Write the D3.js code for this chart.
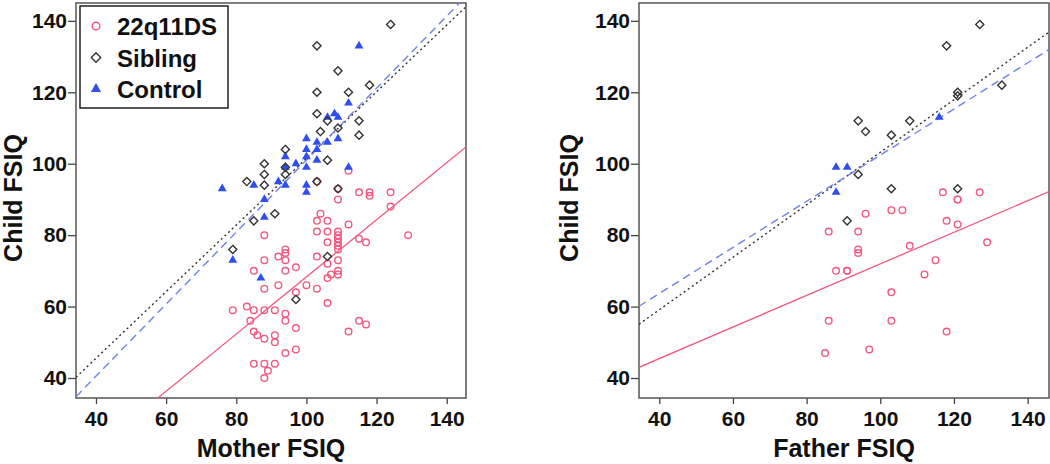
<!DOCTYPE html>
<html><head><meta charset="utf-8">
<script src="https://cdn.jsdelivr.net/npm/d3@7"></script>
<style>body{margin:0;background:#fff;} svg{display:block;font-family:"Liberation Sans",Arial,sans-serif;}</style>
</head><body><svg id="c" width="1050" height="464"></svg>
<script>
const seriesNames = ["22q11DS", "Sibling", "Control"];
const xTickValues = [40, 60, 80, 100, 120, 140];
const yTickValues = [40, 60, 80, 100, 120, 140];
const xTitles = ["Mother FSIQ", "Father FSIQ"];
const yTitle = "Child FSIQ";

const mother22q = [
  [112,98],[103,95],[109,93],[109,90],[115,92],[118,92],[118,91],[124,92],[124,88],[129,80],
  [104,86],[103,84],[106,84],[88,80],[103,81],[106,81],[109,81],[109,80],[109,79],[109,78],
  [112,83],[106,78],[115,79],[117,78],[109,77],[109,76],[94,76],[94,75],[92,74],[88,73],
  [94,73],[103,74],[106,72],[109,73],[97,71],[85,70],[94,70],[109,70],[109,69],[106,68],[107,69],
  [88,65],[92,66],[100,66],[103,65],[97,64],[106,61],[83,60],[79,59],[85,59],[88,59],[91,59],
  [84,56],[94,58],[94,56],[97,54],[115,56],[117,55],[112,53],[85,53],[86,52],[88,51],[91,52],[91,50],
  [94,47],[97,48],[85,44],[88,44],[91,44],[89,42],[88,40]
];
const motherSibling = [
  [79,76],[83,95],[85,84],[88,100],[88,97],[88,94],[91,86],[94,104],[94,99],[94,97],[97,62],
  [103,95],[103,114],[103,120],[103,133],[104,109],[106,101],[106,112],[106,74],[109,93],
  [109,110],[109,126],[112,120],[115,108],[115,112],[118,122],[124,139]
];
const motherControl = [
  [76,93],[79,73],[85,94],[87,68],[88,90],[88,85],[92,95],[94,102],[94,99],[94,94],[97,100],
  [100,107],[100,104],[100,102],[100,99],[100,94],[100,92],[103,106],[103,104],[103,101],
  [106,106],[106,113],[108,114],[109,113],[109,107],[112,117],[112,99],[115,133]
];
const father22q = [
  [117,92],[127,92],[121,90],[121,90],[96,86],[103,87],[106,87],[118,84],[121,83],[86,81],
  [94,81],[129,78],[94,76],[94,75],[108,77],[115,73],[88,70],[91,70],[91,70],[112,69],
  [103,64],[86,56],[103,56],[118,53],[85,47],[97,48]
];
const fatherSibling = [
  [127,139],[118,133],[133,122],[121,120],[121,119],[94,112],[96,109],[108,112],[103,108],
  [94,97],[103,93],[121,93],[91,84]
];
const fatherControl = [[116,113],[88,99],[91,99],[88,92]];

// fitted regression lines: [intercept, slope] for 22q11DS, Sibling, Control
const motherFits = [[-11.7, 0.80], [8.2, 0.933], [0.2, 1.008]];
const fatherFits = [[27.75, 0.442], [29.7, 0.735], [37.8, 0.646]];

const PINK = "#f4587f", DARK = "#333", BLUE = "#2f4ef0", DASHBLUE = "#6f80ea";

const svg = d3.select("#c");

const panels = [
  {id: 0, left: 76, right: 466, xDom: [34.3, 145.5], pts: [mother22q, motherSibling, motherControl], fits: motherFits, ytx: 22, legend: true},
  {id: 1, left: 639, right: 1049, xDom: [34.5, 145.8], pts: [father22q, fatherSibling, fatherControl], fits: fatherFits, ytx: 578, legend: false}
];
const plotTop = 3, plotBottom = 398;

function drawSymbol(g, kind, x, y, scale) {
  const s = scale || 1;
  if (kind === 0) {
    g.append("circle").attr("cx", x).attr("cy", y).attr("r", 3.3 * s)
      .attr("fill", "none").attr("stroke", PINK).attr("stroke-width", 1.4);
  } else if (kind === 1) {
    g.append("path").attr("transform", `translate(${x},${y})`)
      .attr("d", d3.symbol().type(d3.symbolDiamond2).size(42 * s * s)())
      .attr("fill", "none").attr("stroke", DARK).attr("stroke-width", 1.4);
  } else {
    g.append("path").attr("transform", `translate(${x},${y})`)
      .attr("d", d3.symbol().type(d3.symbolTriangle).size(34 * s * s)())
      .attr("fill", BLUE).attr("stroke", "none");
  }
}

panels.forEach(p => {
  const x = d3.scaleLinear().domain(p.xDom).range([p.left, p.right]);
  const y = d3.scaleLinear().domain([34.4, 145.0]).range([plotBottom, plotTop]);
  const g = svg.append("g");

  const clipId = "clip" + p.id;
  svg.append("clipPath").attr("id", clipId).append("rect")
    .attr("x", p.left).attr("y", plotTop).attr("width", p.right - p.left).attr("height", plotBottom - plotTop);

  const ya = g.append("g").attr("transform", `translate(${p.left},0)`)
    .call(d3.axisLeft(y).tickValues(yTickValues).tickSize(8).tickPadding(1));
  const xa = g.append("g").attr("transform", `translate(0,${plotBottom})`)
    .call(d3.axisBottom(x).tickValues(xTickValues).tickSize(6).tickPadding(7));
  [ya, xa].forEach(a => {
    a.select(".domain").remove();
    a.selectAll("line").attr("stroke", "#444").attr("stroke-width", 1.3);
    a.selectAll("text").attr("font-size", 21).attr("font-weight", "bold").attr("fill", "#111");
  });

  g.append("rect").attr("x", p.left).attr("y", plotTop).attr("width", p.right - p.left).attr("height", plotBottom - plotTop)
    .attr("fill", "none").attr("stroke", "#555").attr("stroke-width", 1.5);

  const lg = g.append("g").attr("clip-path", `url(#${clipId})`);
  const styles = [
    {stroke: PINK, dash: null, w: 1.3},
    {stroke: DARK, dash: "2,3", w: 1.4},
    {stroke: DASHBLUE, dash: "8,5", w: 1.4}
  ];
  p.fits.forEach((f, i) => {
    const [a, b] = f;
    const x0 = p.xDom[0], x1 = p.xDom[1];
    lg.append("line").attr("x1", x(x0)).attr("y1", y(a + b * x0))
      .attr("x2", x(x1)).attr("y2", y(a + b * x1))
      .attr("stroke", styles[i].stroke).attr("stroke-width", styles[i].w)
      .attr("stroke-dasharray", styles[i].dash);
  });

  const pg = g.append("g");
  [0, 2, 1].forEach(k => {
    p.pts[k].forEach(d => drawSymbol(pg, k, x(d[0]), y(d[1])));
  });

  g.append("text").attr("x", (p.left + p.right) / 2).attr("y", 457)
    .attr("text-anchor", "middle").attr("font-size", 25).attr("font-weight", "bold").attr("fill", "#111")
    .text(xTitles[p.id]);
  g.append("text").attr("transform", `translate(${p.ytx},198) rotate(-90)`)
    .attr("text-anchor", "middle").attr("font-size", 25).attr("font-weight", "bold").attr("fill", "#111")
    .text(yTitle);

  if (p.legend) {
    const leg = g.append("g");
    leg.append("rect").attr("x", 80).attr("y", 6).attr("width", 148).attr("height", 102)
      .attr("fill", "#fff").attr("stroke", "#222").attr("stroke-width", 1.5);
    seriesNames.forEach((n, i) => {
      const cy = 26 + i * 31.5;
      drawSymbol(leg, i, 96, cy, 1.15);
      leg.append("text").attr("x", 117).attr("y", cy + 9).attr("font-size", 24).attr("font-weight", "bold")
        .attr("fill", "#111").text(n);
    });
  }
});
</script></body></html>
